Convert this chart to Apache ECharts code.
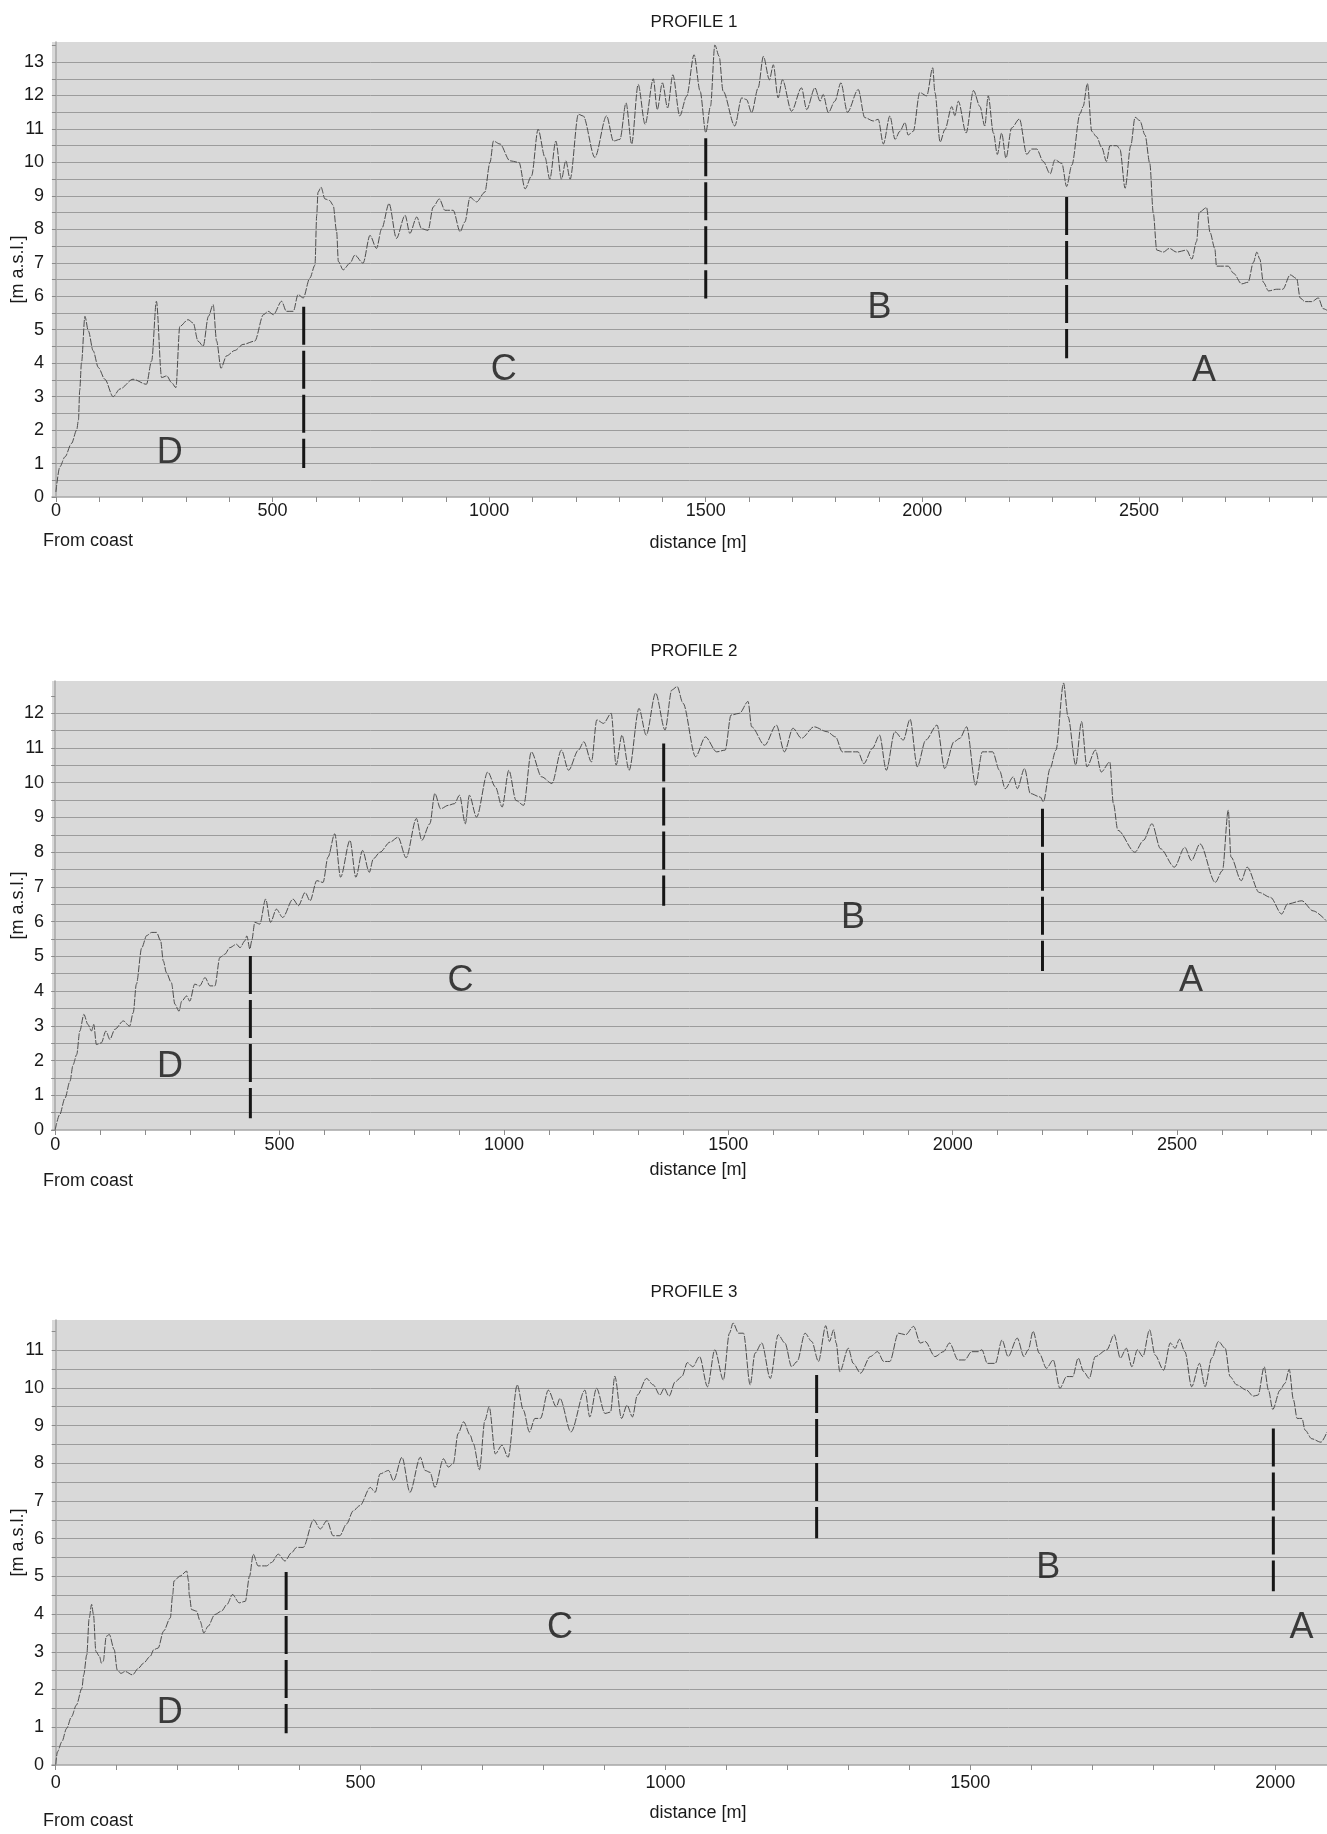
<!DOCTYPE html>
<html>
<head>
<meta charset="utf-8">
<script src="https://cdn.jsdelivr.net/npm/echarts@6/dist/echarts.min.js"></script>
<style>
  html, body { margin: 0; padding: 0; background: #fff; }
  #chart { width: 1327px; height: 1834px; }
</style>
</head>
<body>
<div id="chart"></div>
<script>
// ---------------- DATA ----------------
const titles = ['PROFILE 1', 'PROFILE 2', 'PROFILE 3'];
const xAxisName = 'distance [m]';
const yAxisName = '[m a.s.l.]';
const originNote = 'From coast';

const xLabels1 = [0, 500, 1000, 1500, 2000, 2500];
const xLabels2 = [0, 500, 1000, 1500, 2000, 2500];
const xLabels3 = [0, 500, 1000, 1500, 2000];
const yLabels1 = [0,1,2,3,4,5,6,7,8,9,10,11,12,13];
const yLabels2 = [0,1,2,3,4,5,6,7,8,9,10,11,12];
const yLabels3 = [0,1,2,3,4,5,6,7,8,9,10,11];

// [distance m, elevation m a.s.l.]
const profile1 = [
[0,0.15],[9,0.9],[21,1.2],[36,1.6],[48,2.0],[52,2.3],[55,3.2],[59,4.0],[67,5.4],[75,4.96],[86,4.37],[98,3.87],[113,3.52],[132,3.0],[148,3.23],[178,3.52],[209,3.37],[221,4.07],[232,5.85],[244,3.57],[256,3.62],[267,3.42],[277,3.27],[286,5.1],[305,5.3],[317,5.2],[328,4.66],[340,4.51],[352,5.4],[363,5.75],[371,4.66],[381,3.85],[394,4.22],[413,4.38],[432,4.56],[459,4.66],[479,5.45],[490,5.55],[502,5.45],[521,5.85],[532,5.55],[548,5.55],[559,6.05],[571,5.95],[586,6.54],[598,6.93],[602,8.42],[605,9.11],[612,9.26],[621,8.91],[632,8.86],[640,8.72],[648,7.93],[652,7.04],[663,6.79],[679,6.99],[690,7.23],[709,6.99],[725,7.82],[740,7.43],[752,8.02],[769,8.77],[786,7.73],[806,8.42],[817,7.88],[833,8.37],[844,8.02],[859,7.97],[871,8.67],[885,8.91],[898,8.57],[917,8.57],[933,7.93],[944,8.22],[956,8.96],[971,8.82],[990,9.11],[1002,10.0],[1010,10.64],[1025,10.55],[1048,10.05],[1069,10.0],[1083,9.21],[1098,9.6],[1113,10.99],[1129,10.15],[1140,9.5],[1154,10.64],[1167,9.5],[1177,10.05],[1187,9.5],[1206,11.44],[1217,11.39],[1244,10.15],[1271,11.39],[1287,10.64],[1302,10.69],[1316,11.78],[1329,10.55],[1344,12.33],[1360,11.14],[1379,12.5],[1388,11.58],[1400,12.38],[1412,11.63],[1424,12.62],[1440,11.39],[1456,11.98],[1473,13.22],[1487,12.13],[1500,10.89],[1511,11.68],[1521,13.51],[1531,13.17],[1540,12.13],[1567,11.09],[1583,11.93],[1594,11.88],[1606,11.49],[1621,12.23],[1633,13.17],[1647,12.47],[1656,12.92],[1667,11.93],[1677,12.47],[1698,11.53],[1721,12.23],[1733,11.58],[1752,12.23],[1764,11.83],[1771,12.03],[1783,11.49],[1798,11.83],[1812,12.38],[1827,11.5],[1852,12.18],[1867,11.34],[1887,11.24],[1898,11.29],[1910,10.55],[1925,11.39],[1937,10.69],[1948,10.93],[1960,11.19],[1967,10.82],[1979,10.93],[1994,12.09],[2010,11.99],[2024,12.83],[2029,12.09],[2041,10.61],[2052,10.98],[2068,11.67],[2075,11.40],[2083,11.83],[2101,10.88],[2118,12.15],[2133,11.67],[2144,11.09],[2152,11.99],[2164,10.88],[2173,10.24],[2183,10.88],[2193,10.13],[2206,11.03],[2224,11.30],[2241,10.24],[2252,10.40],[2264,10.40],[2279,10.03],[2295,9.66],[2306,10.08],[2322,9.97],[2333,9.28],[2345,9.92],[2364,11.46],[2371,11.67],[2381,12.36],[2391,10.93],[2402,10.77],[2414,10.45],[2425,10.03],[2433,10.50],[2449,10.50],[2456,10.40],[2468,9.23],[2481,10.50],[2491,11.35],[2502,11.25],[2514,10.82],[2525,9.97],[2533,8.49],[2541,7.38],[2556,7.32],[2570,7.43],[2587,7.32],[2610,7.38],[2622,7.11],[2633,7.64],[2639,8.51],[2656,8.65],[2664,7.91],[2675,7.43],[2679,6.90],[2706,6.90],[2718,6.69],[2737,6.37],[2752,6.42],[2764,7.01],[2772,7.32],[2779,7.11],[2787,6.42],[2799,6.16],[2818,6.21],[2832,6.21],[2849,6.64],[2864,6.53],[2872,5.95],[2883,5.84],[2899,5.84],[2914,5.95],[2925,5.63],[2934,5.58]
];

const profile2 = [
[0,0.0],[10,0.44],[22,0.92],[33,1.40],[40,1.88],[48,2.17],[55,2.85],[64,3.33],[73,3.04],[81,2.85],[86,3.04],[92,2.46],[103,2.51],[113,2.85],[122,2.61],[133,2.90],[152,3.14],[166,2.99],[174,3.38],[181,4.20],[193,5.25],[204,5.6],[215,5.69],[226,5.69],[235,5.45],[241,4.87],[248,4.53],[259,4.24],[267,3.62],[276,3.42],[282,3.71],[293,3.86],[300,3.71],[311,4.20],[322,4.15],[334,4.39],[345,4.15],[356,4.15],[367,4.97],[378,5.06],[389,5.25],[404,5.35],[412,5.25],[423,5.45],[427,5.59],[434,5.21],[438,5.45],[445,5.98],[456,5.93],[469,6.65],[480,5.98],[493,6.36],[507,6.12],[530,6.65],[542,6.46],[557,6.84],[568,6.60],[583,7.18],[597,7.13],[608,7.86],[623,8.53],[636,7.28],[657,8.34],[670,7.28],[685,8.05],[700,7.42],[709,7.81],[724,8.0],[746,8.29],[764,8.43],[782,7.84],[805,8.97],[817,8.34],[835,8.82],[846,9.69],[859,9.25],[876,9.35],[890,9.4],[901,9.64],[914,8.82],[923,9.64],[939,9.01],[964,10.31],[981,9.88],[996,9.30],[1011,10.36],[1027,9.49],[1044,9.35],[1061,10.89],[1084,10.17],[1107,9.98],[1128,10.94],[1144,10.36],[1166,10.94],[1178,11.18],[1195,10.60],[1207,11.81],[1222,11.71],[1239,12.0],[1250,10.51],[1263,11.37],[1279,10.36],[1301,12.14],[1317,11.37],[1338,12.58],[1359,11.52],[1374,12.67],[1386,12.77],[1399,12.29],[1427,10.75],[1449,11.32],[1474,10.89],[1493,10.94],[1506,11.95],[1525,12.0],[1544,12.34],[1552,11.61],[1581,11.08],[1607,11.66],[1625,10.89],[1644,11.57],[1663,11.28],[1691,11.61],[1720,11.47],[1739,11.32],[1754,10.89],[1789,10.89],[1802,10.55],[1821,10.99],[1837,11.37],[1852,10.36],[1871,11.47],[1890,11.23],[1905,11.83],[1921,10.46],[1940,11.23],[1965,11.66],[1982,10.41],[2003,11.18],[2016,11.28],[2031,11.61],[2051,9.93],[2066,10.89],[2089,10.89],[2104,10.36],[2117,9.83],[2135,10.17],[2144,9.83],[2160,10.41],[2173,9.69],[2195,9.59],[2202,9.45],[2217,10.41],[2230,10.94],[2247,12.87],[2257,11.90],[2274,10.51],[2287,11.76],[2299,10.46],[2318,10.94],[2331,10.31],[2350,10.60],[2358,9.40],[2368,8.63],[2406,8.0],[2425,8.34],[2444,8.82],[2463,8.10],[2494,7.57],[2517,8.14],[2532,7.76],[2551,8.24],[2585,7.13],[2601,7.47],[2614,9.21],[2620,7.86],[2643,7.18],[2656,7.57],[2683,6.84],[2708,6.70],[2733,6.22],[2746,6.51],[2778,6.60],[2803,6.31],[2832,6.03]
];

const profile3 = [
[0,0.01],[3,0.35],[10,0.61],[18,0.97],[26,1.28],[34,1.59],[43,2.03],[46,2.39],[51,2.92],[55,3.90],[59,4.26],[62,3.99],[66,3.01],[72,2.88],[75,2.70],[78,2.75],[83,3.41],[88,3.46],[96,3.06],[101,2.52],[107,2.43],[114,2.48],[126,2.39],[136,2.57],[144,2.70],[155,2.88],[161,3.06],[168,3.10],[177,3.55],[188,3.90],[192,4.52],[194,4.88],[204,5.01],[215,5.14],[218,4.88],[219,4.52],[223,4.12],[231,4.08],[237,3.81],[243,3.50],[250,3.68],[261,3.99],[272,4.08],[281,4.26],[290,4.52],[301,4.30],[311,4.34],[318,5.01],[324,5.59],[332,5.28],[346,5.28],[354,5.37],[365,5.59],[376,5.41],[387,5.63],[395,5.77],[406,5.77],[423,6.50],[434,6.26],[445,6.48],[455,6.08],[466,6.08],[477,6.39],[488,6.74],[499,6.88],[516,7.36],[524,7.23],[532,7.72],[546,7.81],[554,7.54],[568,8.16],[581,7.23],[598,8.16],[606,7.81],[614,7.76],[622,7.36],[636,8.12],[644,7.90],[652,7.99],[660,8.79],[669,9.10],[680,8.74],[685,8.52],[695,7.83],[704,9.14],[711,9.50],[721,8.25],[732,8.48],[742,8.16],[757,10.08],[767,9.41],[777,8.83],[786,9.19],[795,9.19],[808,9.94],[821,9.50],[827,9.72],[845,8.83],[868,9.94],[876,9.23],[887,9.99],[901,9.32],[910,9.36],[917,10.31],[928,9.19],[937,9.54],[946,9.23],[954,9.81],[969,10.25],[980,10.08],[991,9.81],[998,9.99],[1006,9.78],[1016,10.16],[1027,10.30],[1036,10.67],[1045,10.56],[1056,10.83],[1069,10.03],[1081,11.01],[1095,10.21],[1105,11.45],[1111,11.72],[1120,11.45],[1128,11.45],[1139,10.08],[1147,10.92],[1158,11.19],[1172,10.25],[1185,11.41],[1196,11.19],[1207,10.56],[1216,10.70],[1229,11.45],[1240,11.23],[1251,10.70],[1263,11.65],[1269,11.23],[1276,11.54],[1280,11.19],[1286,10.43],[1300,11.05],[1308,10.65],[1320,10.39],[1336,10.83],[1348,10.96],[1358,10.70],[1368,10.70],[1382,11.45],[1394,11.41],[1407,11.63],[1418,11.19],[1426,11.23],[1442,10.83],[1456,10.96],[1466,11.19],[1480,10.74],[1491,10.74],[1502,10.96],[1513,10.96],[1519,11.01],[1528,10.65],[1541,10.65],[1552,11.27],[1562,10.83],[1577,11.32],[1588,10.83],[1595,11.01],[1603,11.50],[1613,10.92],[1625,10.52],[1636,10.74],[1647,9.99],[1658,10.30],[1668,10.30],[1677,10.79],[1686,10.43],[1695,10.25],[1705,10.83],[1724,11.01],[1736,11.41],[1746,10.79],[1756,11.05],[1765,10.56],[1774,11.01],[1783,10.83],[1794,11.54],[1803,10.87],[1817,10.47],[1828,11.19],[1836,11.05],[1843,11.29],[1852,10.96],[1863,10.03],[1876,10.65],[1885,10.03],[1896,10.79],[1907,11.23],[1918,11.05],[1926,10.30],[1937,10.08],[1953,9.94],[1964,9.78],[1972,9.81],[1982,10.56],[1989,9.94],[1996,9.43],[2008,9.94],[2016,10.12],[2023,10.49],[2030,9.68],[2036,9.19],[2044,9.19],[2049,8.88],[2060,8.65],[2075,8.56],[2085,8.83]
];

// zone boundaries: [distance, top elevation, bottom elevation]
const dividers1 = [[572, 5.69, 0.87], [1500, 10.72, 5.93], [2333, 8.97, 4.15]];
const dividers2 = [[435, 5.01, 0.34], [1356, 11.13, 6.46], [2200, 9.25, 4.58]];
const dividers3 = [[378, 5.12, 0.84], [1248, 10.34, 6.01], [1997, 8.92, 4.61]];

// zone letters: [distance, elevation, letter]
const zones1 = [[263, 1.30, 'D'], [1034, 3.80, 'C'], [1901, 5.65, 'B'], [2650, 3.75, 'A']];
const zones2 = [[256, 1.82, 'D'], [903, 4.28, 'C'], [1778, 6.10, 'B'], [2531, 4.30, 'A']];
const zones3 = [[187, 1.37, 'D'], [827, 3.64, 'C'], [1628, 5.23, 'B'], [2043, 3.62, 'A']];

// ---------------- LAYOUT ----------------
const FONT = '"Liberation Sans", Arial, Helvetica, sans-serif';
const panels = [
  { data: profile1, div: dividers1, zones: zones1, xl: xLabels1, yl: yLabels1,
    xMin: -9, xMax: 2934, yMax: 13.6, top: 42, height: 455, labelMargin: 5,
    titleY: 22, nameY: 543, noteY: 541 },
  { data: profile2, div: dividers2, zones: zones2, xl: xLabels2, yl: yLabels2,
    xMin: -7, xMax: 2834, yMax: 12.93, top: 681, height: 449, labelMargin: 6,
    titleY: 651, nameY: 1170, noteY: 1181 },
  { data: profile3, div: dividers3, zones: zones3, xl: xLabels3, yl: yLabels3,
    xMin: -6, xMax: 2085, yMax: 11.8, top: 1320, height: 445, labelMargin: 9,
    titleY: 1292, nameY: 1813, noteY: 1821 }
];

const grids = [], xAxes = [], yAxes = [], series = [], graphics = [];

panels.forEach((p, i) => {
  grids.push({ left: 52, right: 0, top: p.top, height: p.height, show: true,
    backgroundColor: '#d9d9d9', borderWidth: 0, containLabel: false });

  const xTicks = [];
  for (let v = 0; v <= p.xMax; v += 100) xTicks.push(v);
  xAxes.push({
    type: 'value', gridIndex: i, min: p.xMin, max: p.xMax,
    axisLine: { show: true, onZero: false, lineStyle: { color: '#a6a6a6', width: 1.5 } },
    axisTick: { show: true, customValues: xTicks, length: 5, lineStyle: { color: '#8c8c8c' } },
    axisLabel: { customValues: p.xl, formatter: v => String(Math.round(v)),
      color: '#1a1a1a', fontSize: 18, fontFamily: FONT, margin: p.labelMargin },
    splitLine: { show: false }
  });

  const yTicks = [];
  for (let v = 0; v <= p.yMax; v += 0.5) yTicks.push(v);
  yAxes.push({
    type: 'value', gridIndex: i, min: 0, max: p.yMax, interval: 0.5,
    axisLine: { show: true, lineStyle: { color: '#a6a6a6', width: 1.5 } },
    axisTick: { show: true, customValues: yTicks, length: 4, lineStyle: { color: '#8c8c8c' } },
    axisLabel: { customValues: p.yl, formatter: v => String(Math.round(v)),
      color: '#1a1a1a', fontSize: 18, fontFamily: FONT, margin: 8 },
    splitLine: { show: true, showMinLine: false, showMaxLine: false,
      lineStyle: { color: '#9c9c9c', width: 1 } }
  });

  series.push({
    type: 'line', xAxisIndex: i, yAxisIndex: i, data: p.data,
    symbol: 'none', smooth: 0.3, smoothMonotone: 'x', z: 3,
    lineStyle: { color: '#4d4d4d', width: 1, type: [7, 1.5] }
  });

  p.div.forEach(d => {
    series.push({
      type: 'line', xAxisIndex: i, yAxisIndex: i,
      data: [[d[0], d[1]], [d[0], d[2]]], symbol: 'none', z: 4,
      lineStyle: { color: '#161616', width: 3, type: [38, 6] }
    });
  });

  series.push({
    type: 'scatter', xAxisIndex: i, yAxisIndex: i, data: p.zones,
    symbolSize: 1, itemStyle: { color: 'rgba(0,0,0,0)' }, z: 5,
    label: { show: true, position: 'inside', formatter: q => q.data[2],
      fontSize: 36, fontFamily: FONT, color: '#111111' }
  });

  const midY = p.top + p.height / 2;
  graphics.push(
    { type: 'text', x: 694, y: p.titleY,
      style: { text: titles[i], align: 'center', verticalAlign: 'middle',
        font: '17px ' + FONT, fill: '#1a1a1a' } },
    { type: 'text', x: 698, y: p.nameY,
      style: { text: xAxisName, align: 'center', verticalAlign: 'middle',
        font: '18px ' + FONT, fill: '#1a1a1a' } },
    { type: 'text', x: 43, y: p.noteY,
      style: { text: originNote, align: 'left', verticalAlign: 'middle',
        font: '18px ' + FONT, fill: '#1a1a1a' } },
    { type: 'text', x: 18, y: midY, rotation: Math.PI / 2,
      style: { text: yAxisName, align: 'center', verticalAlign: 'middle',
        font: '18px ' + FONT, fill: '#1a1a1a' } }
  );
});

const chart = echarts.init(document.getElementById('chart'), null, { renderer: 'canvas' });
chart.setOption({
  animation: false,
  backgroundColor: '#ffffff',
  grid: grids, xAxis: xAxes, yAxis: yAxes, series: series, graphic: graphics
});
</script>
</body>
</html>
